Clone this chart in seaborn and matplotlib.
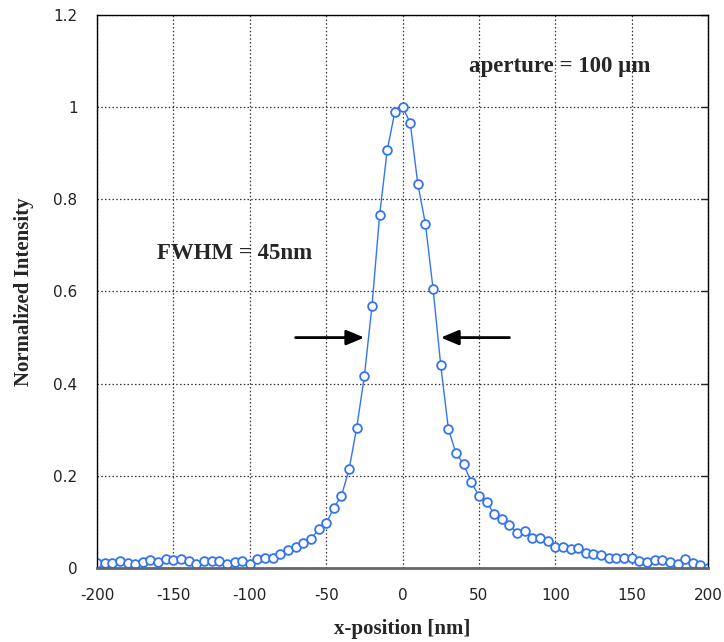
import numpy as np
import pandas as pd
import matplotlib
matplotlib.use("Agg")
import matplotlib.pyplot as plt
import seaborn as sns

# x positions (nm), 5 nm steps
x_pos = list(range(-200, 205, 5))
intensity = [
    0.012, 0.012, 0.012, 0.015, 0.012, 0.010, 0.014, 0.017, 0.014, 0.019,
    0.017, 0.019, 0.015, 0.010, 0.016, 0.016, 0.016, 0.010, 0.013, 0.016,
    0.010, 0.019, 0.021, 0.021, 0.030, 0.039, 0.045, 0.055, 0.063, 0.084,
    0.097, 0.131, 0.157, 0.214,
    0.305, 0.416, 0.569, 0.766, 0.907, 0.990, 1.000, 0.966, 0.833, 0.746,
    0.605, 0.440, 0.302, 0.249,
    0.226, 0.186, 0.157, 0.144, 0.117, 0.106, 0.093, 0.077, 0.080, 0.066,
    0.066, 0.059, 0.046, 0.046, 0.041, 0.043, 0.032, 0.030, 0.028, 0.023,
    0.023, 0.023, 0.021, 0.016, 0.014, 0.017, 0.017, 0.014, 0.010, 0.019,
    0.012, 0.007, 0.001,
]
x_ticks = [-200, -150, -100, -50, 0, 50, 100, 150, 200]
y_ticks = [0, 0.2, 0.4, 0.6, 0.8, 1.0, 1.2]
y_tick_labels = ["0", "0.2", "0.4", "0.6", "0.8", "1", "1.2"]

df = pd.DataFrame({"x": x_pos, "y": intensity})

sns.set_style("white")
plt.rcParams["font.family"] = ["DejaVu Sans"]

fig = plt.figure(figsize=(7.24, 6.42), dpi=100)
ax = fig.add_axes([0.134, 0.115, 0.844, 0.862])

blue = "#3474f4"
sns.lineplot(data=df, x="x", y="y", ax=ax, color=blue, linewidth=1.0,
             marker="o", markersize=6.3, markerfacecolor="white",
             markeredgecolor=blue, markeredgewidth=1.3)

ax.set_xlim(-200, 200)
ax.set_ylim(0, 1.2)
ax.set_xticks(x_ticks)
ax.set_xticklabels([str(t) for t in x_ticks])
ax.set_yticks(y_ticks)
ax.set_yticklabels(y_tick_labels)

ax.grid(True, linestyle=(0, (1.2, 1.8)), color="#333333", linewidth=0.9)
ax.set_axisbelow(True)

for s in ["left", "top", "right"]:
    ax.spines[s].set_color("black")
    ax.spines[s].set_linewidth(1.0)
ax.spines["bottom"].set_color("#666666")
ax.spines["bottom"].set_linewidth(2.0)

ax.tick_params(axis="both", direction="in", length=5, width=1, labelsize=11,
               labelcolor="#222222", top=False, right=True, left=False)
ax.tick_params(axis="x", pad=14)
ax.tick_params(axis="y", pad=14)

serif = ["Liberation Serif", "DejaVu Serif"]
ax.set_xlabel("x-position [nm]", fontsize=15, fontweight="bold", family=serif, labelpad=12)
ax.set_ylabel("Normalized Intensity", fontsize=15, fontweight="bold", family=serif, labelpad=14)

ax.text(103, 1.087, "aperture = 100 µm", fontsize=16.5, fontweight="bold",
        family=serif, ha="center", va="center")
ax.text(-110, 0.683, "FWHM = 45nm", fontsize=16.5, fontweight="bold",
        family=serif, ha="center", va="center")

arrow = dict(arrowstyle="-|>,head_length=0.6,head_width=0.25", color="black",
             lw=2, mutation_scale=18, shrinkA=0, shrinkB=0)
ax.annotate("", xy=(-25, 0.5), xytext=(-70, 0.5), arrowprops=arrow)
ax.annotate("", xy=(25, 0.5), xytext=(70, 0.5), arrowprops=arrow)

fig.savefig("out.png", dpi=100, facecolor="white")
